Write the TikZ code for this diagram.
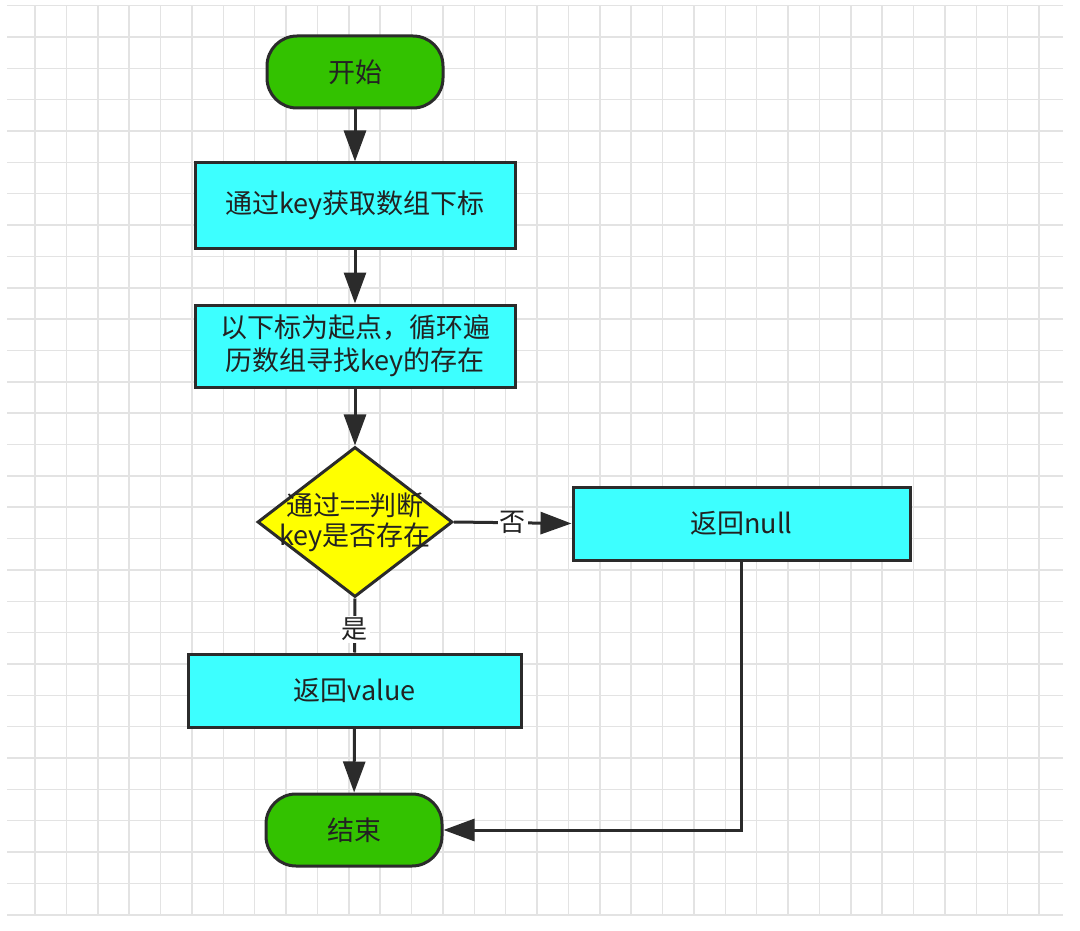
\documentclass[tikz,border=0pt]{standalone}
\usepackage{fontspec}
\setmainfont{Noto Sans CJK SC}
\usetikzlibrary{shapes.geometric,arrows.meta}
\definecolor{gridc}{HTML}{E3E3E3}
\definecolor{termgreen}{HTML}{33C200}
\definecolor{boxcyan}{HTML}{3DFFFF}
\definecolor{decyellow}{HTML}{FFFF00}
\definecolor{edgec}{HTML}{2B2B2B}
\definecolor{txt}{HTML}{222222}
\tikzset{
  x=1pt,y=-1pt,
  basefont/.style={font=\fontsize{27}{33}\selectfont, text=txt},
  term/.style={basefont, draw=edgec, line width=3pt, fill=termgreen, rounded corners=30pt, minimum width=176pt, minimum height=72pt, inner sep=0pt},
  procbox/.style={basefont, draw=edgec, line width=3pt, fill=boxcyan, inner sep=0pt, align=center},
  decision/.style={draw=edgec, line width=3pt, fill=decyellow, shape=diamond, minimum width=195pt, minimum height=150pt, inner sep=0pt},
  conn/.style={draw=edgec, line width=3pt, -{Triangle[length=31pt,width=22pt]}},
  plainconn/.style={draw=edgec, line width=3pt},
  elabel/.style={font=\fontsize{26}{30}\selectfont, text=txt, fill=white, inner sep=2pt},
}
\begin{document}
\begin{tikzpicture}
\useasboundingbox (0,0) rectangle (1080,931);
\fill[white] (0,0) rectangle (1080,931);
% grid
\foreach \k in {0,...,32} {
  \draw[gridc, line width=1.5pt] ({35+31.375*\k},5.6) -- ({35+31.375*\k},914);
}
\foreach \k in {0,...,29} {
  \draw[gridc, line width=1.5pt] (7,{5.6+31.35*\k}) -- (1063,{5.6+31.35*\k});
}
% nodes
\node[term] (start) at (355,72) {开始};
\node[procbox, minimum width=320pt, minimum height=85pt] (getidx) at (355,205.5) {通过key获取数组下标};
\node[procbox, minimum width=320pt, minimum height=82pt] (loop) at (355,346) {以下标为起点，循环遍\\历数组寻找key的存在};
\node[decision] (dec) at (355,522) {};
\node[basefont, align=center, font=\fontsize{27}{30}\selectfont] (dectext) at (dec.center) {通过==判断\\key是否存在};
\node[procbox, minimum width=337pt, minimum height=73pt] (retnull) at (741.5,523.5) {返回null};
\node[procbox, minimum width=333pt, minimum height=73pt] (retval) at (354.5,690.5) {返回value};
\node[term] (end) at (354,830) {结束};
\coordinate (corner) at (retnull.south |- end.east);
% connectors
\draw[conn] (start) -- (getidx);
\draw[conn] (getidx) -- (loop);
\draw[conn] (loop) -- (dec);
\draw[conn] (dec.east) -- node[elabel, pos=0.5] (nolbl) {否} (retnull.west);
\draw[plainconn] (dec.south) -- node[elabel, pos=0.57] (yeslbl) {是} (retval.north);
\draw[conn] (retval) -- (end);
\draw[conn] (retnull.south) -- (corner) -- (end.east);
\end{tikzpicture}
\end{document}
